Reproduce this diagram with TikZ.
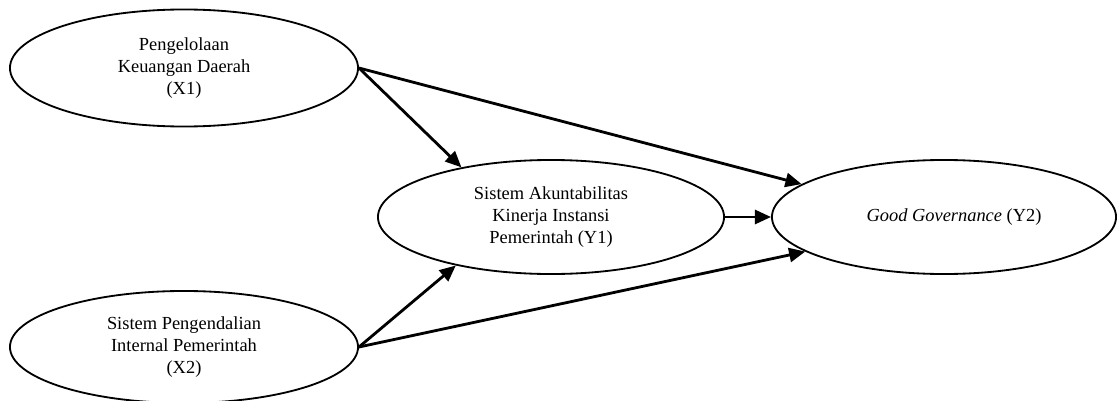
\documentclass[tikz,border=0pt]{standalone}
\usepackage{fontspec}
\setmainfont{Liberation Serif}
\usetikzlibrary{arrows.meta,shapes.geometric}

\begin{document}
\begin{tikzpicture}[x=0.025cm,y=-0.025cm,
  var/.style={ellipse,draw,line width=1.3pt,inner sep=0pt,align=center,
    minimum width=8.7cm,minimum height=2.9cm,
    font=\fontsize{13.1}{15.6}\selectfont},
  link/.style={line width=2pt,-{Triangle[length=11.5pt,width=10pt]}}]
\useasboundingbox (0,0) rectangle (1118,401);
% variables
\node[var,minimum height=2.925cm] (x1) at (184,68) {Pengelolaan\\Keuangan Daerah\\(X1)};
\node[var,minimum height=2.8cm] (x2) at (184,347) {Sistem Pengendalian\\Internal Pemerintah\\(X2)};
\node[var,minimum width=8.65cm,minimum height=2.85cm] (y1) at (551,217) {Sistem Akuntabilitas\\Kinerja Instansi\\Pemerintah (Y1)};
\node[var,minimum width=8.6cm,minimum height=2.85cm] (y2) at (944,217) {\hspace*{0.5cm}\textit{Good Governance} (Y2)};
% paths
\draw[link] (x1.east) -- (y1.151);
\draw[link] (x1.east) -- (y2.167);
\draw[link] (x2.east) -- (y1.207);
\draw[link] (x2.east) -- (y2.194);
\draw[link] (y1.east) -- (y2.west);
\end{tikzpicture}
\end{document}
